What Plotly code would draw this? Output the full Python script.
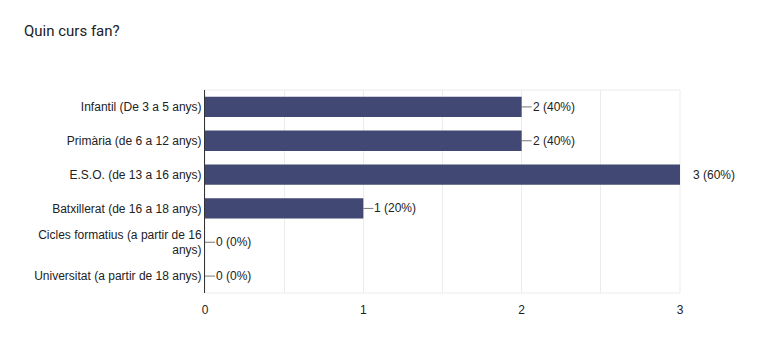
import plotly.graph_objects as go

categories = [
    "Infantil (De 3 a 5 anys)",
    "Primària (de 6 a 12 anys)",
    "E.S.O. (de 13 a 16 anys)",
    "Batxillerat (de 16 a 18 anys)",
    "Cicles formatius (a partir de 16<br>anys)",
    "Universitat (a partir de 18 anys)",
]
counts = [2, 2, 3, 1, 0, 0]
percents = [40, 40, 60, 20, 0, 0]
x_ticks = [0, 1, 2, 3]

bar_color = "#414873"
text_color = "#222222"
xmax = max(x_ticks)

fig = go.Figure()
fig.add_trace(go.Bar(
    y=categories, x=counts, orientation="h",
    marker=dict(color=bar_color, line=dict(width=0)),
    width=0.6, hoverinfo="skip",
))

shapes = []
annotations = []
for cat, c, p in zip(categories, counts, percents):
    at_max = c >= xmax
    line_len = 3 if at_max else 10
    txt_shift = 12 if at_max else 10
    shapes.append(dict(
        type="line", xref="x", yref="y", xsizemode="pixel", xanchor=c,
        x0=0, x1=line_len, y0=cat, y1=cat,
        line=dict(color="#777777", width=1), layer="above",
    ))
    annotations.append(dict(
        x=c, y=cat, xref="x", yref="y", text=f"{c} ({p}%)",
        showarrow=False, xanchor="left", xshift=txt_shift, borderpad=0,
        font=dict(size=12, color=text_color, family="Liberation Sans, Arial, sans-serif"),
    ))

# light frame around plot area
shapes.append(dict(type="rect", xref="paper", yref="paper", x0=0, x1=1, y0=0, y1=1,
                   line=dict(color="#ececec", width=1), layer="below"))

annotations.append(dict(
    text="Quin curs fan?", xref="paper", yref="paper",
    x=(22 - 205) / 475, y=(293 - 31) / 203,
    xanchor="left", yanchor="middle", showarrow=False, align="left",
    font=dict(size=15, color="#202124", family="Roboto, sans-serif"),
))

fig.update_layout(
    width=761, height=350,
    margin=dict(l=205, r=81, t=90, b=57),
    paper_bgcolor="white", plot_bgcolor="white",
    showlegend=False, bargap=0.4,
    shapes=shapes, annotations=annotations,
    font=dict(family="Liberation Sans, Arial, sans-serif", size=12, color=text_color),
    xaxis=dict(
        range=[0, xmax], tickvals=x_ticks, ticktext=[str(v) for v in x_ticks],
        showgrid=True, gridcolor="#ececec", gridwidth=1,
        minor=dict(dtick=0.5, showgrid=True, gridcolor="#ececec", gridwidth=1),
        zeroline=False, showline=False, ticks="", ticklen=0,
        ticklabelstandoff=8,
        tickfont=dict(size=12, color=text_color),
        fixedrange=True,
    ),
    yaxis=dict(
        autorange="reversed", showgrid=False, zeroline=False,
        showline=True, linecolor="#333333", linewidth=1,
        ticks="", ticklabelstandoff=0,
        tickfont=dict(size=12, color=text_color),
        fixedrange=True,
    ),
)

fig.write_html("out.html")
